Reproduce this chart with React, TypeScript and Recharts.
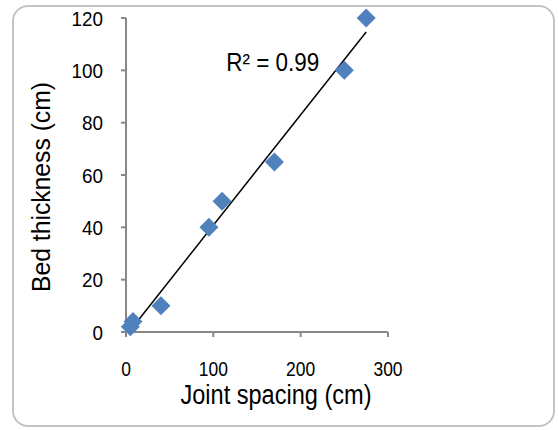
import React from 'react'
import {
  ScatterChart,
  Scatter,
  XAxis,
  YAxis,
  ReferenceLine,
  ReferenceDot,
  Label,
} from 'recharts'

const jointSpacing = [5, 8, 40, 95, 110, 170, 250, 275]
const bedThickness = [2, 4, 10, 40, 50, 65, 100, 120]
const xTicks = [0, 100, 200, 300]
const yTicks = [0, 20, 40, 60, 80, 100, 120]
const rSquaredLabel = 'R² = 0.99'

const points = jointSpacing.map((x, i) => ({ x, y: bedThickness[i] }))

// least squares fit for the trend line
const n = points.length
const meanX = jointSpacing.reduce((a, b) => a + b, 0) / n
const meanY = bedThickness.reduce((a, b) => a + b, 0) / n
let sxy = 0
let sxx = 0
points.forEach((p) => {
  sxy += (p.x - meanX) * (p.y - meanY)
  sxx += (p.x - meanX) ** 2
})
const slope = sxy / sxx
const intercept = meanY - slope * meanX
const minX = Math.min(...jointSpacing)
const maxX = Math.max(...jointSpacing)
const trend = [
  { x: minX, y: intercept + slope * minX },
  { x: maxX, y: intercept + slope * maxX },
]

const FONT = '"Liberation Sans", Arial, sans-serif'
const AXIS = '#888888'

const Diamond = (props: any) => {
  const { cx, cy } = props
  const r = 9.5
  return (
    <polygon
      points={`${cx},${cy - r} ${cx + r},${cy} ${cx},${cy + r} ${cx - r},${cy}`}
      fill="#4F81BD"
    />
  )
}

const XTick = (props: any) => {
  const { x, y, payload } = props
  const w = String(payload.value).length * 9.7
  return (
    <text x={x} y={y + 39} textAnchor="middle" fontSize={20} fill="#000" textLength={w} lengthAdjust="spacingAndGlyphs">
      {payload.value}
    </text>
  )
}

const YTick = (props: any) => {
  const { x, y, payload } = props
  const w = String(payload.value).length * 10.5
  return (
    <text x={x} y={y + 7.5} textAnchor="end" fontSize={21} fill="#000" textLength={w} lengthAdjust="spacingAndGlyphs">
      {payload.value}
    </text>
  )
}

export default function App() {
  return (
    <div style={{ position: 'absolute', left: 0, top: 0, width: 558, height: 430, background: '#fff' }}>
      <div
        style={{
          position: 'absolute',
          left: 12,
          top: 5,
          width: 543,
          height: 422,
          border: '2px solid #c4c4c4',
          borderRadius: 16,
          boxSizing: 'border-box',
        }}
      />
      <ScatterChart
        width={558}
        height={430}
        margin={{ top: 18, right: 170, bottom: 38, left: 66 }}
        style={{ position: 'absolute', left: 0, top: 0, fontFamily: FONT }}
      >
        <XAxis
          type="number"
          dataKey="x"
          domain={[0, 300]}
          ticks={xTicks}
          height={60}
          tickSize={5}
          tickMargin={0}
          stroke={AXIS}
          strokeWidth={2}
          tick={<XTick />}
        >
          <Label
            content={() => (
              <text x={276} y={404} textAnchor="middle" fontSize={27} fill="#000" textLength={191} lengthAdjust="spacingAndGlyphs">
                Joint spacing (cm)
              </text>
            )}
          />
        </XAxis>
        <YAxis
          type="number"
          dataKey="y"
          domain={[0, 120]}
          ticks={yTicks}
          width={60}
          tickSize={5}
          tickMargin={18}
          stroke={AXIS}
          strokeWidth={2}
          tick={<YTick />}
        >
          <Label
            content={() => (
              <text
                x={50}
                y={187}
                transform="rotate(-90 50 187)"
                textAnchor="middle"
                fontSize={25}
                fill="#000"
                textLength={210}
                lengthAdjust="spacingAndGlyphs"
              >
                Bed thickness (cm)
              </text>
            )}
          />
        </YAxis>
        <Scatter data={points} shape={<Diamond />} isAnimationActive={false} />
        <ReferenceLine segment={trend} stroke="#000" strokeWidth={1.5} />
        <ReferenceDot x={168} y={103} r={0} fill="none" stroke="none">
          <Label
            content={(p: any) => (
              <text
                x={p.viewBox?.cx ?? p.viewBox?.x}
                y={(p.viewBox?.cy ?? p.viewBox?.y) + 9}
                textAnchor="middle"
                fontSize={25}
                fill="#000"
                textLength={93}
                lengthAdjust="spacingAndGlyphs"
              >
                {rSquaredLabel}
              </text>
            )}
          />
        </ReferenceDot>
      </ScatterChart>
    </div>
  )
}
